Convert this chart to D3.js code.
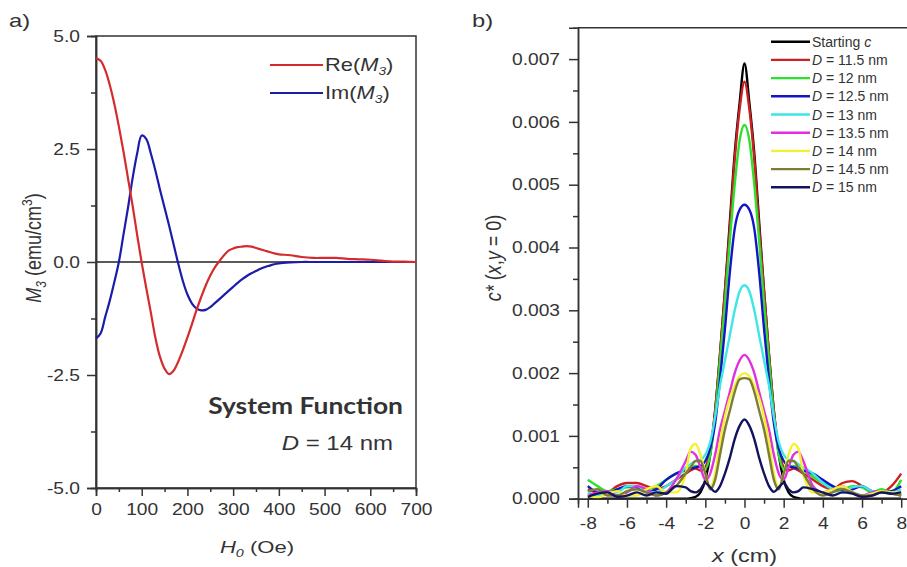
<!DOCTYPE html>
<html>
<head>
<meta charset="utf-8">
<script src="https://cdn.jsdelivr.net/npm/d3@7"></script>
<style>
  body { margin: 0; background: #fff; }
  text { font-family: 'Liberation Sans', Arial, sans-serif; fill: #333; }
</style>
</head>
<body>
<div id="chart"></div>
<script>
// ---- panel a data: system function vs field ----
let fieldH = [0,10,20,30,40,50,60,70,80,90,100,110,120,130,140,150,160,170,180,190,200,
  210,220,230,240,250,260,270,280,290,300,310,320,330,340,350,360,370,380,390,400,
  425,450,475,500,525,550,575,600,625,650,675,700]
let reM3 = [4.51,4.45,4.25,3.92,3.5,3.0,2.45,1.85,1.25,0.6,-0.02,-0.58,-1.12,-1.68,-2.1,-2.36,-2.48,-2.4,-2.2,-1.95,-1.67,
  -1.37,-1.06,-0.78,-0.52,-0.3,-0.12,0.02,0.15,0.25,0.3,0.33,0.34,0.35,0.34,0.31,0.28,0.25,0.22,0.19,0.17,
  0.15,0.11,0.09,0.09,0.09,0.07,0.06,0.05,0.03,0.01,0.01,0.0]
let imM3 = [-1.69,-1.58,-1.22,-0.86,-0.45,0.0,0.6,1.2,1.85,2.4,2.8,2.72,2.4,2.02,1.6,1.2,0.8,0.38,-0.04,-0.42,-0.72,
  -0.92,-1.03,-1.07,-1.06,-1.0,-0.91,-0.82,-0.73,-0.64,-0.55,-0.46,-0.38,-0.31,-0.25,-0.2,-0.15,-0.11,-0.08,-0.05,-0.03,
  -0.01,0,0,0,0,0,0,0,0,0,0,0]
let hTicks = [0,100,200,300,400,500,600,700]
let hMinor = [50,150,250,350,450,550,650]
let m3Ticks = [-5,-2.5,0,2.5,5]
let m3Minor = [-3.75,-1.25,1.25,3.75]

// ---- panel b data: reconstructed profiles c*(x, y=0) ----
let xPos = [-8,-7.5,-7,-6.5,-6,-5.5,-5,-4.5,-4,-3.5,-3,-2.75,-2.5,-2.25,-2,-1.75,-1.5,-1.25,-1,-0.75,-0.5,-0.25,0,
  0.25,0.5,0.75,1,1.25,1.5,1.75,2,2.25,2.5,2.75,3,3.5,4,4.5,5,5.5,6,6.5,7,7.5,8]
let startC = [0,0,0,0,0,0,0,0,0,0,0,
  0.00001,0.00003,0.0001,0.0003,0.0007,0.0014,0.0023,0.0033,0.0044,0.0055,0.0063,0.00693,
  0.0063,0.0055,0.0044,0.0033,0.0023,0.0014,0.0007,0.0003,0.0001,0.00003,0.00001,
  0,0,0,0,0,0,0,0,0,0,0]
let d115 = [0.00015,0.0001,0.0001,0.0002,0.00025,0.00025,0.0002,0.00015,0.0002,0.0003,0.0004,
  0.00045,0.00048,0.00045,0.0005,0.0008,0.0014,0.0023,0.0033,0.0043,0.0054,0.0062,0.00664,
  0.0062,0.0054,0.0043,0.0033,0.0023,0.0014,0.0008,0.0005,0.00045,0.00048,0.00045,
  0.0004,0.0003,0.0002,0.00015,0.00025,0.00028,0.0002,0.00012,0.0001,0.0002,0.0004]
let d12 = [0.0003,0.0002,0.00012,0.00015,0.00018,0.0002,0.00015,0.0002,0.0003,0.0004,0.00045,
  0.0005,0.00052,0.0005,0.00048,0.0007,0.0013,0.0022,0.0031,0.0041,0.005,0.0057,0.00595,
  0.0057,0.005,0.0041,0.0031,0.0022,0.0013,0.0007,0.00048,0.0005,0.00052,0.0005,
  0.00045,0.00035,0.00025,0.0002,0.00015,0.0002,0.00018,0.0001,0.00015,0.0001,0.0003]
let d125 = [0.0002,0.0001,0.00008,0.00015,0.0002,0.00018,0.0001,0.00015,0.0003,0.0004,0.00046,
  0.00048,0.0005,0.00052,0.0006,0.0008,0.0012,0.0019,0.0027,0.0036,0.0043,0.0046,0.00468,
  0.0046,0.0043,0.0036,0.0027,0.0019,0.0012,0.0008,0.0006,0.00052,0.0005,0.00048,
  0.00045,0.0004,0.0003,0.0002,0.00012,0.00015,0.0002,0.00012,0.0001,0.00012,0.0002]
let d13 = [0.0001,0.00005,0.0001,0.0001,0.0002,0.0002,0.00012,0.0001,0.0002,0.0003,0.0005,
  0.00055,0.0006,0.00062,0.0007,0.0009,0.0013,0.0018,0.0022,0.0026,0.003,0.0033,0.0034,
  0.0033,0.003,0.0026,0.0022,0.0018,0.0013,0.0009,0.0007,0.00062,0.0006,0.00055,
  0.0005,0.0004,0.00025,0.00015,0.0001,0.00018,0.0002,0.00012,0.0001,0.0001,0.00015]
let d135 = [0.00005,0.0001,0.00012,0.00005,0.0001,0.0002,0.00015,0.00005,0.0001,0.0003,0.0006,
  0.00075,0.0007,0.0005,0.0003,0.0004,0.0007,0.0011,0.0014,0.0017,0.002,0.0022,0.00229,
  0.0022,0.002,0.0017,0.0014,0.0011,0.0007,0.0004,0.0003,0.0005,0.0007,0.00075,
  0.0006,0.0002,0.0001,0.00015,0.0002,0.0001,0.00005,0.0001,0.00012,0.00008,0.00005]
let d14 = [0.00005,0.00002,0.00008,0.00012,0.00005,0.00005,0.00015,0.0002,0.0001,0.0001,0.0004,
  0.0008,0.00087,0.0007,0.0004,0.00018,0.0004,0.0009,0.0013,0.0016,0.0018,0.00195,0.002,
  0.00195,0.0018,0.0016,0.0013,0.0009,0.0004,0.00018,0.0004,0.0007,0.00087,0.0008,
  0.0004,0.0001,0.0001,0.00015,0.0002,0.0001,0.00005,0.00008,0.00012,0.0001,0.0001]
let d145 = [0.00012,0.00015,0.00005,0.00005,0.00012,0.00015,0.0001,0.00005,0.0001,0.0002,0.0004,
  0.0005,0.0006,0.0006,0.0004,0.00015,0.0003,0.0007,0.0011,0.0014,0.0017,0.0019,0.00192,
  0.0019,0.0017,0.0014,0.0011,0.0007,0.0003,0.00015,0.0004,0.0006,0.0006,0.0005,
  0.0004,0.00015,0.00005,0.0001,0.00015,0.0001,0.00005,0.00005,0.0001,0.00008,0.00005]
let d15 = [0.00003,0.00008,0.0001,0.00003,0.00005,0.0001,0.00005,0.0001,0.00008,0.0002,0.00018,
  0.00012,0.0001,0.00015,0.00025,0.00018,0.00011,0.0002,0.0004,0.00065,0.00095,0.00116,0.00126,
  0.00116,0.00095,0.00065,0.0004,0.0002,0.00011,0.00018,0.00025,0.00015,0.0001,0.00012,
  0.00018,0.00015,0.0001,0.00005,0.0001,0.00008,0.00003,0.00005,0.0001,0.00008,0.0001]
let seriesNames = ['Starting c','11.5','12','12.5','13','13.5','14','14.5','15']
let seriesColors = ['#000000','#cc2020','#2ee02e','#1414c8','#3ee6e6','#e030e0','#f2f230','#7d7d35','#14145e']
let seriesValues = [startC,d115,d12,d125,d13,d135,d14,d145,d15]
let xTicks = [-8,-6,-4,-2,0,2,4,6,8]
let xMinor = [-7,-5,-3,-1,1,3,5,7]
let cTicks = [0,0.001,0.002,0.003,0.004,0.005,0.006,0.007]
let cMinor = [0.0005,0.0015,0.0025,0.0035,0.0045,0.0055,0.0065]

let width = 907,
  height = 567

let svg = d3.select('#chart')
  .append('svg')
  .attr('width', width)
  .attr('height', height)

// the original figure is a bit wide, so glyphs are stretched sideways
function stretch(sel, sx) {
  sel.each(function() {
    let t = d3.select(this)
    let x = +t.attr('x') || 0, y = +t.attr('y') || 0
    t.attr('x', 0).attr('y', 0).attr('transform', `translate(${x},${y}) scale(${sx},1)`)
  })
}

// plain hyphen instead of the unicode minus
let fmt = f => d => d3.format(f)(d).replace('\u2212', '-')

function styleAxis(g) {
  g.select('.domain').attr('stroke', '#333').attr('stroke-width', 1.5)
  g.selectAll('.tick line').attr('stroke', '#333').attr('stroke-width', 1.5)
  g.selectAll('.tick text').attr('font-size', 16).attr('fill', '#333')
    .style('font-family', "'Liberation Sans', Arial, sans-serif")
    .call(stretch, 1.2)
}

// ================= panel a =================
let xA = d3.scaleLinear().domain([0, 700]).range([96, 416])
let yA = d3.scaleLinear().domain([-5, 5]).range([488, 36])

svg.append('rect')
  .attr('x', xA(0)).attr('y', yA(5))
  .attr('width', xA(700) - xA(0)).attr('height', yA(-5) - yA(5))
  .attr('fill', 'none').attr('stroke', '#333').attr('stroke-width', 1.5)

// zero line
svg.append('line')
  .attr('x1', xA(0)).attr('x2', xA(700))
  .attr('y1', yA(0)).attr('y2', yA(0))
  .attr('stroke', '#222').attr('stroke-width', 1.5)

svg.append('g').attr('transform', `translate(0,${yA(-5)})`)
  .call(d3.axisBottom(xA).tickValues(hMinor).tickSize(4).tickFormat(''))
  .call(styleAxis)
svg.append('g').attr('transform', `translate(0,${yA(-5)})`)
  .call(d3.axisBottom(xA).tickValues(hTicks).tickSize(8).tickPadding(8).tickFormat(fmt('d')))
  .call(styleAxis)
svg.append('g').attr('transform', `translate(${xA(0)},0)`)
  .call(d3.axisLeft(yA).tickValues(m3Minor).tickSize(5).tickFormat(''))
  .call(styleAxis)
svg.append('g').attr('transform', `translate(${xA(0)},0)`)
  .call(d3.axisLeft(yA).tickValues(m3Ticks).tickSize(9).tickPadding(7).tickFormat(fmt('.1f')))
  .call(styleAxis)

let lineA = vals => d3.line()
  .x((d, i) => xA(fieldH[i]))
  .y(d => yA(d))
  .curve(d3.curveCatmullRom.alpha(0.5))(vals)

svg.append('path').attr('d', lineA(imM3))
  .attr('fill', 'none').attr('stroke', '#1c1caa').attr('stroke-width', 2.2)
svg.append('path').attr('d', lineA(reM3))
  .attr('fill', 'none').attr('stroke', '#d42c2c').attr('stroke-width', 2.2)

// legend a
let legA = [['Re', '#d42c2c', 65], ['Im', '#1c1caa', 93]]
legA.forEach(l => {
  svg.append('line').attr('x1', 270).attr('x2', 323).attr('y1', l[2]).attr('y2', l[2])
    .attr('stroke', l[1]).attr('stroke-width', 2.2)
  let t = svg.append('text').attr('x', 325).attr('y', l[2] + 6).attr('font-size', 17.5)
  t.append('tspan').text(l[0] + '(')
  t.append('tspan').attr('font-style', 'italic').text('M')
  t.append('tspan').attr('font-style', 'italic').attr('font-size', 11).attr('dy', 4).text('3')
  t.append('tspan').attr('dy', -4).text(')')
  t.call(stretch, 1.25)
})

// annotation
svg.append('text').attr('x', 403).attr('y', 414).attr('text-anchor', 'end')
  .attr('font-size', 22).attr('font-weight', 'bold').attr('fill', '#111')
  .style('font-family', "Lato, 'Open Sans', sans-serif")
  .text('System Function')
  .call(stretch, 1.2)
let dAnn = svg.append('text').attr('x', 393).attr('y', 450).attr('text-anchor', 'end')
  .attr('font-size', 20).attr('fill', '#111')
dAnn.append('tspan').attr('font-style', 'italic').text('D')
dAnn.append('tspan').text(' = 14 nm')
dAnn.call(stretch, 1.2)

// axis titles a
let xtA = svg.append('text').attr('x', 257).attr('y', 553).attr('text-anchor', 'middle').attr('font-size', 17)
xtA.append('tspan').attr('font-style', 'italic').text('H')
xtA.append('tspan').attr('font-style', 'italic').attr('font-size', 11).attr('dy', 4).text('0')
xtA.append('tspan').attr('dy', -4).text(' (Oe)')
xtA.call(stretch, 1.3)

let ytA = svg.append('text').attr('transform', 'translate(41,248) rotate(-90) scale(1,1.25)')
  .attr('text-anchor', 'middle').attr('font-size', 18)
ytA.append('tspan').attr('font-style', 'italic').text('M')
ytA.append('tspan').attr('font-style', 'italic').attr('font-size', 12).attr('dy', 4).text('3')
ytA.append('tspan').attr('dy', -4).text(' (emu/cm')
ytA.append('tspan').attr('font-size', 12).attr('dy', -7).text('3')
ytA.append('tspan').attr('dy', 7).text(')')

svg.append('text').attr('x', 9).attr('y', 27).attr('font-size', 19).attr('fill', '#111').text('a)')
  .call(stretch, 1.25)

// ================= panel b =================
let xB = d3.scaleLinear().domain([-8.5, 8.5]).range([578, 911])
let yB = d3.scaleLinear().domain([0, 0.0075]).range([498.7, 27.7])

svg.append('clipPath').attr('id', 'clipB')
  .append('rect').attr('x', xB(-8.5)).attr('y', yB(0.0075))
  .attr('width', xB(8.5) - xB(-8.5)).attr('height', yB(0) - yB(0.0075) + 2)

svg.append('line')
  .attr('x1', xB(-8.5)).attr('x2', xB(8.5))
  .attr('y1', yB(0.0075)).attr('y2', yB(0.0075))
  .attr('stroke', '#333').attr('stroke-width', 1.5)

let lineB = vals => d3.line()
  .x((d, i) => xB(xPos[i]))
  .y(d => yB(d))
  .curve(d3.curveMonotoneX)(vals)

svg.append('g').attr('clip-path', 'url(#clipB)')
  .selectAll('path')
  .data(seriesValues)
  .enter().append('path')
  .attr('d', d => lineB(d))
  .attr('fill', 'none')
  .attr('stroke', (d, i) => seriesColors[i])
  .attr('stroke-width', 2.4)

svg.append('g').attr('transform', `translate(0,${yB(0)})`)
  .call(d3.axisBottom(xB).tickValues(xMinor).tickSize(5).tickFormat(''))
  .call(styleAxis)
svg.append('g').attr('transform', `translate(0,${yB(0)})`)
  .call(d3.axisBottom(xB).tickValues(xTicks).tickSize(9).tickPadding(10).tickFormat(fmt('d')))
  .call(styleAxis)
svg.append('g').attr('transform', `translate(${xB(-8.5)},0)`)
  .call(d3.axisLeft(yB).tickValues(cMinor).tickSize(5).tickFormat(''))
  .call(styleAxis)
svg.append('g').attr('transform', `translate(${xB(-8.5)},0)`)
  .call(d3.axisLeft(yB).tickValues(cTicks).tickSize(9).tickPadding(9).tickFormat(fmt('.3f')))
  .call(styleAxis)

// legend b
seriesNames.forEach((name, i) => {
  let y = 41.7 + i * 18.2
  svg.append('line').attr('x1', 771).attr('x2', 810).attr('y1', y).attr('y2', y)
    .attr('stroke', seriesColors[i]).attr('stroke-width', 2.4)
  let t = svg.append('text').attr('x', 812).attr('y', y + 5).attr('font-size', 14)
  if (i === 0) {
    t.append('tspan').text('Starting ')
    t.append('tspan').attr('font-style', 'italic').text('c')
  } else {
    t.append('tspan').attr('font-style', 'italic').text('D')
    t.append('tspan').text(` = ${name} nm`)
  }
})

// axis titles b
let xtB = svg.append('text').attr('x', xB(0)).attr('y', 562).attr('text-anchor', 'middle').attr('font-size', 18)
xtB.append('tspan').attr('font-style', 'italic').text('x')
xtB.append('tspan').text(' (cm)')
xtB.call(stretch, 1.3)

let ytB = svg.append('text').attr('transform', 'translate(501,258) rotate(-90) scale(1,1.25)')
  .attr('text-anchor', 'middle').attr('font-size', 18)
ytB.append('tspan').attr('font-style', 'italic').text('c*')
ytB.append('tspan').text(' (')
ytB.append('tspan').attr('font-style', 'italic').text('x')
ytB.append('tspan').text(',')
ytB.append('tspan').attr('font-style', 'italic').text('y')
ytB.append('tspan').text(' = 0)')

svg.append('text').attr('x', 472).attr('y', 27).attr('font-size', 19).attr('fill', '#111').text('b)')
  .call(stretch, 1.25)
</script>
</body>
</html>
